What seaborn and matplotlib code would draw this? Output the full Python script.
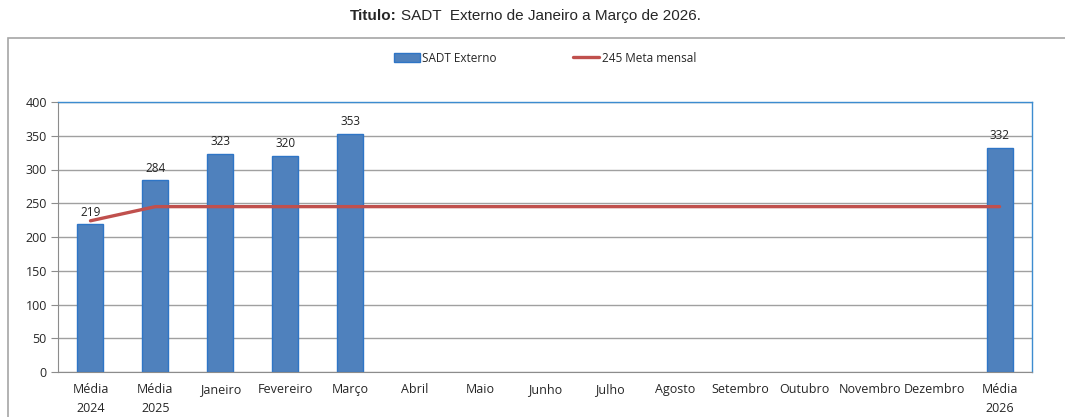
import numpy as np
import pandas as pd
import matplotlib
matplotlib.use("Agg")
import matplotlib.pyplot as plt
from matplotlib.patches import Rectangle, Patch
from matplotlib.lines import Line2D
import seaborn as sns

categorias = ["Média\n2024", "Média\n2025", "Janeiro", "Fevereiro", "Março", "Abril",
              "Maio", "Junho", "Julho", "Agosto", "Setembro", "Outubro",
              "Novembro", "Dezembro", "Média\n2026"]
sadt_externo = [219, 284, 323, 320, 353, np.nan, np.nan, np.nan, np.nan, np.nan,
                np.nan, np.nan, np.nan, np.nan, 332]
meta_mensal = [224, 245, 245, 245, 245, 245, 245, 245, 245, 245, 245, 245, 245, 245, 245]

df = pd.DataFrame({"cat": categorias, "sadt": sadt_externo, "meta": meta_mensal})

sns.set_style("white")
plt.rcParams["font.family"] = ["Open Sans", "DejaVu Sans"]

W, H = 1065, 417
fig = plt.figure(figsize=(W / 100, H / 100), dpi=100)

# outer chart frame
fig.patches.append(Rectangle((8 / W, -0.01), 1.0, 1 - 38 / H + 0.01, transform=fig.transFigure,
                             fill=False, edgecolor="#A6A6A6", linewidth=1.2))

ax = fig.add_axes([58 / W, 1 - 372 / H, (1032 - 58) / W, (372 - 102) / H])

sns.barplot(data=df, x="cat", y="sadt", color="#4F81BD", width=0.4, ax=ax,
            edgecolor="#2E75C6", linewidth=1, saturation=1, zorder=2)
sns.lineplot(x=np.arange(len(categorias)), y=df["meta"], color="#C0504D", linewidth=2.4,
             ax=ax, zorder=3)

for i, v in enumerate(sadt_externo):
    if not np.isnan(v):
        ax.annotate(f"{v:.0f}", (i, v), xytext=(0, 4), textcoords="offset points",
                    ha="center", va="bottom", fontsize=8.5, color="#222222")

ax.set_xlim(-0.5, len(categorias) - 0.5)
ax.set_ylim(0, 400)
ax.set_yticks(range(0, 401, 50))
ax.yaxis.grid(True, color="#A0A0A0", linewidth=1)
ax.set_axisbelow(True)
ax.set_xlabel("")
ax.set_ylabel("")

ax.set_xticks(range(len(categorias)))
ax.set_xticklabels(categorias, fontsize=9, linespacing=1.6, va="top")
ax.set_xticks(np.arange(-0.5, len(categorias), 1), minor=True)
ax.tick_params(axis="x", which="major", length=0, pad=8)
ax.tick_params(axis="x", which="minor", length=5, color="#8C8C8C", direction="out")
ax.tick_params(axis="y", length=5, color="#8C8C8C", direction="out", labelsize=9, pad=3)
ax.tick_params(axis="both", bottom=True, left=True)
ax.tick_params(axis="x", which="major", bottom=False)

for s in ["left", "bottom"]:
    ax.spines[s].set_color("#8C8C8C")
for s in ["top", "right"]:
    ax.spines[s].set_color("#3C8CD0")
    ax.spines[s].set_linewidth(1)

handles = [Patch(facecolor="#4F81BD", edgecolor="#2E75C6"),
           Line2D([0], [0], color="#C0504D", linewidth=2.4)]
fig.legend(handles, ["SADT Externo", "245 Meta mensal"], loc="center",
           bbox_to_anchor=(545 / W, 1 - 58 / H), ncol=2, frameon=False, fontsize=8.5,
           handlelength=2.2, handletextpad=0.2, columnspacing=6.5)

# title: bold "Titulo:" followed by regular text
tfam = ["Liberation Sans Narrow", "Liberation Sans"]
t1 = fig.text(350 / W, 1 - 16 / H, "Titulo:", ha="left", va="center", fontsize=11,
              fontweight="bold", family=tfam)
fig.canvas.draw()
bb = t1.get_window_extent()
fig.text((bb.x1 + 4) / W, 1 - 16 / H, "SADT  Externo de Janeiro a Março de 2026.",
         ha="left", va="center", fontsize=11, family=tfam)

fig.savefig("out.png", dpi=100)
